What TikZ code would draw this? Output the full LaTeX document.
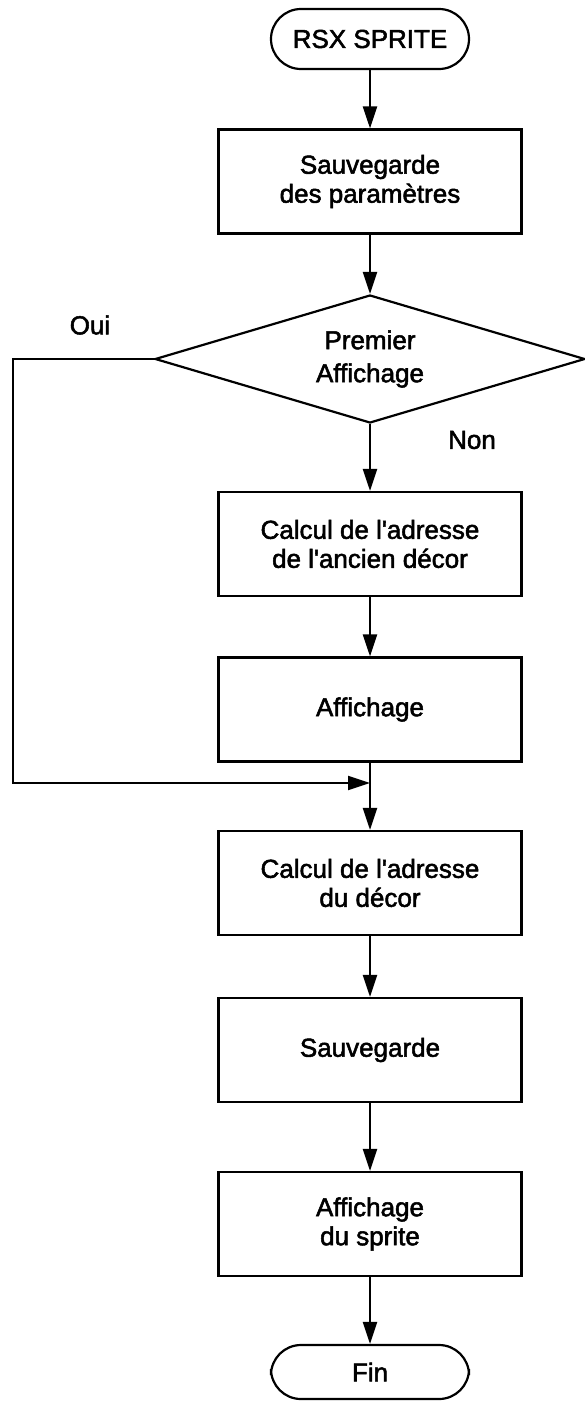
\documentclass[tikz,border=0pt]{standalone}
\usepackage{fontspec}
\setmainfont{Liberation Sans}[FakeBold=2]
\usetikzlibrary{shapes.geometric,arrows.meta}
\begin{document}
\begin{tikzpicture}[x=1pt,y=-1pt,
  line width=2.2pt,
  every node/.style={font=\fontsize{26}{29}\selectfont, align=center},
  procbox/.style={draw, rectangle, minimum width=303pt, minimum height=104pt, inner sep=0pt},
  term/.style={draw, rectangle, rounded corners=30pt, minimum width=198pt, minimum height=60pt, inner sep=0pt},
  dec/.style={draw, diamond, aspect=3.36, minimum width=430pt, minimum height=128pt, inner sep=0pt},
  arr/.style={-{Triangle[length=22pt,width=14pt]}}]
\useasboundingbox (0,0) rectangle (584,1401);

\node[term] (start) at (370,39) {RSX SPRITE};
\node[procbox] (b1) at (370,181.5) {Sauvegarde\\des paramètres};
\node[dec] (d) at (370,359) {Premier\\[4pt]Affichage};
\node[procbox] (b2) at (370,544) {Calcul de l\textquotesingle adresse\\de l\textquotesingle ancien décor};
\node[procbox] (b3) at (370,709.5) {Affichage};
\node[procbox] (b4) at (370,883) {Calcul de l\textquotesingle adresse\\du décor};
\node[procbox] (b5) at (370,1050) {Sauvegarde};
\node[procbox] (b6) at (370,1224) {Affichage\\du sprite};
\node[term, minimum height=54pt] (fin) at (370,1372) {Fin};

\node (oui) at (90,325) {Oui};
\node (non) at (472,440) {Non};

\coordinate (merge) at (370,783);
\coordinate (corner) at (13,783);

\draw[arr] (start) -- (b1);
\draw[arr] (b1) -- (d);
\draw[arr] (d) -- (b2);
\draw[arr] (b2) -- (b3);
\draw[arr] (b3) -- (b4);
\draw[arr] (d.west) -| (corner) -- (merge);
\draw[arr] (b4) -- (b5);
\draw[arr] (b5) -- (b6);
\draw[arr] (b6) -- (fin);
\end{tikzpicture}
\end{document}
